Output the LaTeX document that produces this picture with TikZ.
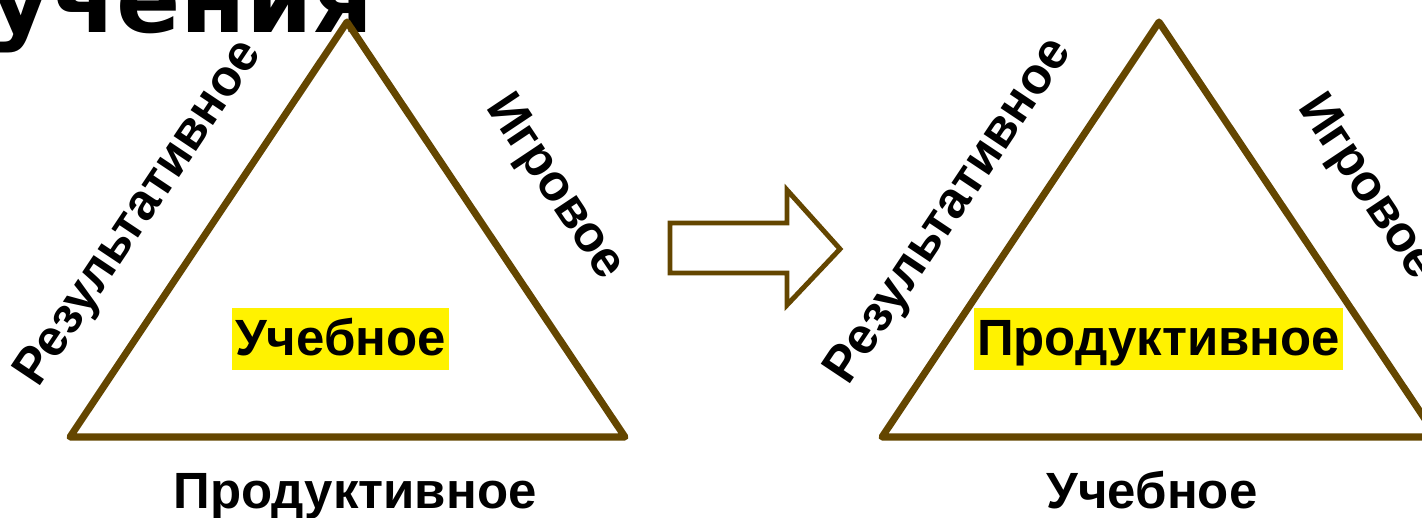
\documentclass[tikz,border=0pt]{standalone}
\usepackage{fontspec}
\setmainfont{Liberation Sans}
\newfontfamily\titlefont{DejaVu Sans}
\definecolor{edgebrown}{RGB}{100,70,0}
\tikzset{
  side/.style={draw=edgebrown, line width=4pt, line join=round},
  hollow/.style={draw=edgebrown, line width=2.8pt, line join=miter},
  lbl/.style={font=\fontsize{29}{31}\selectfont\bfseries, inner sep=0pt},
  hilite/.style={lbl, fill=yellow, inner xsep=0.06cm, inner ysep=0pt,
    text height=0.94cm, text depth=0.3cm},
  titletext/.style={font=\titlefont\fontsize{54}{58}\selectfont\bfseries, inner sep=0pt}
}
\begin{document}
\begin{tikzpicture}[x=0.02cm, y=-0.02cm]
  \useasboundingbox (0,0) rectangle (1422,517);
  \clip (0,0) rectangle (1422,517);
  \node[titletext, anchor=base east] (title) at (374,33) {учения};
  % left triangle
  \coordinate (ltop) at (347,22);
  \coordinate (lleft) at (70,437);
  \coordinate (lright) at (625,437);
  \draw[side] (ltop) -- (lright) -- (lleft) -- cycle;
  \node[hilite, anchor=base] (linner) at (340.5,355) {Учебное};
  \node[lbl, rotate=56.3] (lres) at (140,214) {Результативное};
  \node[lbl, rotate=-56.3] (lgame) at (554,188) {Игровое};
  \node[lbl, anchor=base] (lbase) at (355,508) {Продуктивное};
  % arrow
  \draw[hollow] (670,223) -- (787,223) -- (787,190) -- (840,249)
    -- (787,305) -- (787,273) -- (670,273) -- cycle;
  % right triangle
  \coordinate (rtop) at (1159,22);
  \coordinate (rleft) at (882,437);
  \coordinate (rright) at (1437,437);
  \draw[side] (rtop) -- (rright) -- (rleft) -- cycle;
  \node[hilite, anchor=base] (rinner) at (1158.5,355) {Продуктивное};
  \node[lbl, rotate=56.3] (rres) at (950,212) {Результативное};
  \node[lbl, rotate=-56.3] (rgame) at (1366,188) {Игровое};
  \node[lbl, anchor=base] (rbase) at (1152,508) {Учебное};
\end{tikzpicture}
\end{document}
